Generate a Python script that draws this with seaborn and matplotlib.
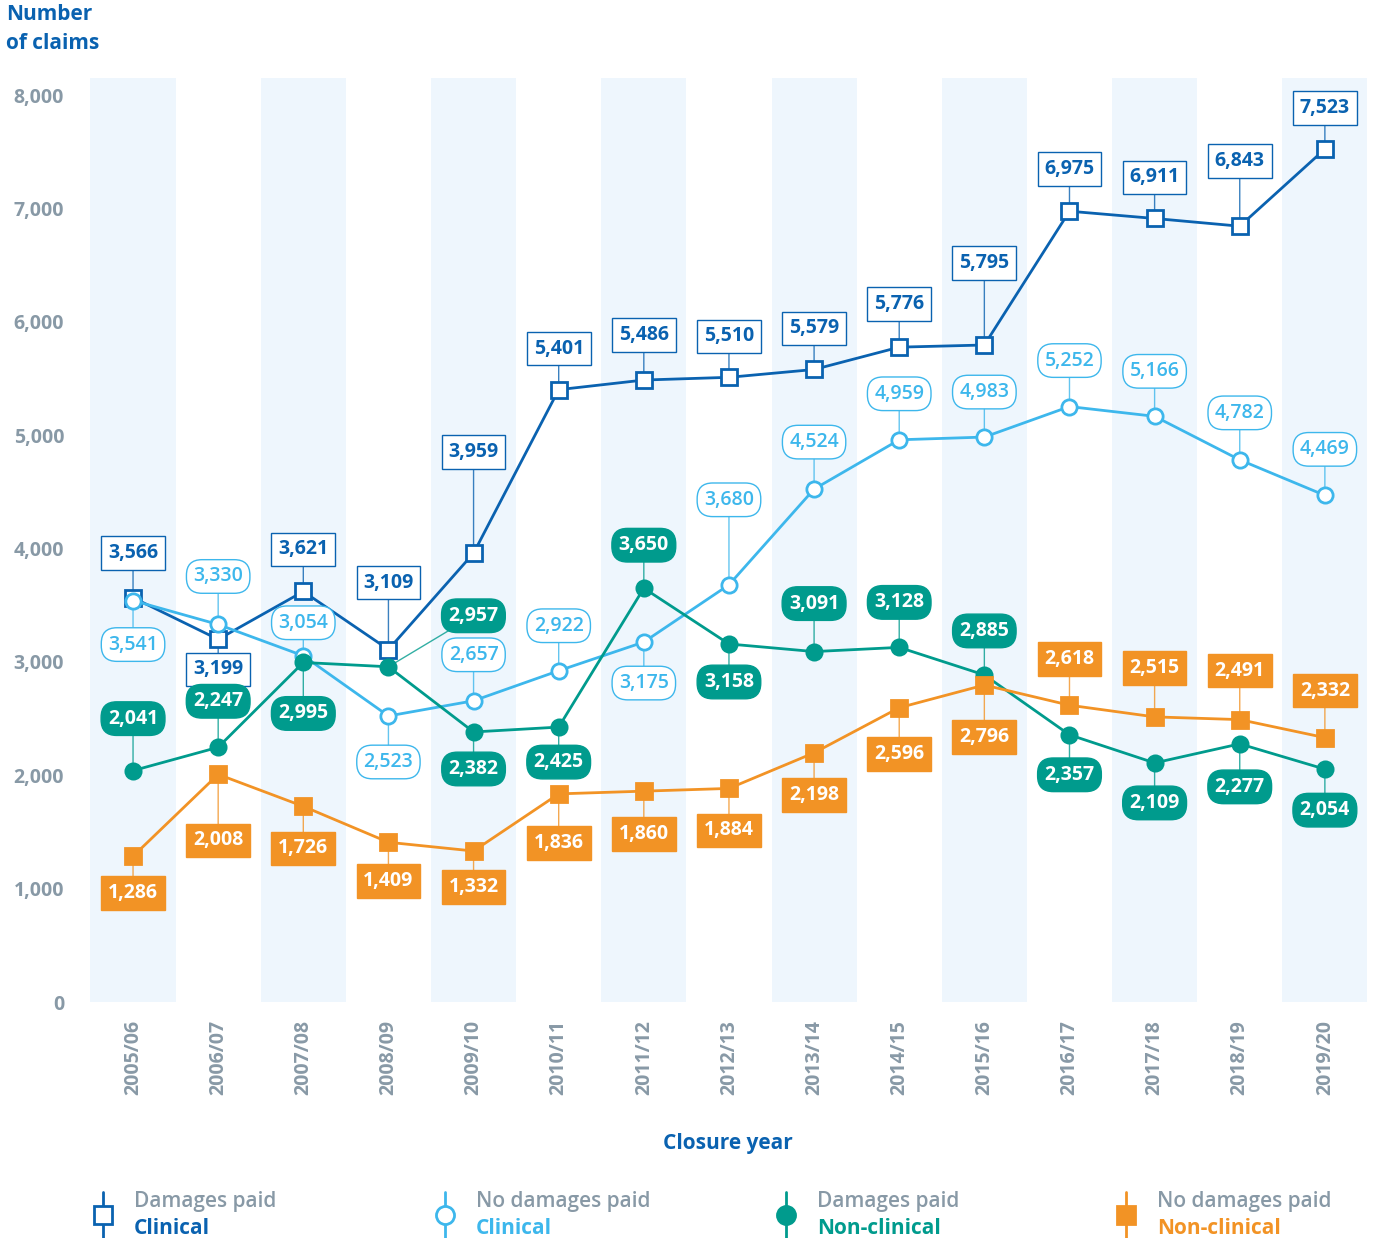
import numpy as np
import pandas as pd
import seaborn as sns
import matplotlib.pyplot as plt
from matplotlib.ticker import FuncFormatter

years = ["2005/06", "2006/07", "2007/08", "2008/09", "2009/10", "2010/11", "2011/12",
         "2012/13", "2013/14", "2014/15", "2015/16", "2016/17", "2017/18", "2018/19", "2019/20"]
damages_clinical = [3566, 3199, 3621, 3109, 3959, 5401, 5486, 5510, 5579, 5776, 5795, 6975, 6911, 6843, 7523]
no_damages_clinical = [3541, 3330, 3054, 2523, 2657, 2922, 3175, 3680, 4524, 4959, 4983, 5252, 5166, 4782, 4469]
damages_nonclinical = [2041, 2247, 2995, 2957, 2382, 2425, 3650, 3158, 3091, 3128, 2885, 2357, 2109, 2277, 2054]
no_damages_nonclinical = [1286, 2008, 1726, 1409, 1332, 1836, 1860, 1884, 2198, 2596, 2796, 2618, 2515, 2491, 2332]

# label offsets in pixels (dx, dy), dy positive = above the point
off_dc = [(0, 45), (0, -30), (0, 42), (0, 67), (0, 101), (0, 41), (0, 45), (0, 41),
          (0, 41), (0, 43), (0, 82), (0, 42), (0, 41), (0, 65), (0, 41)]
off_nc = [(0, -44), (0, 48), (0, 33), (0, -46), (0, 46), (0, 45), (0, -41), (0, 85),
          (0, 47), (0, 46), (0, 45), (0, 46), (0, 45), (0, 47), (0, 46)]
off_dn = [(0, 52), (0, 46), (0, -51), (85, 51), (0, -37), (0, -35), (0, 43), (0, -38),
          (0, 48), (0, 45), (0, 44), (0, -40), (0, -40), (0, -43), (0, -41)]
off_nn = [(0, -37), (0, -66), (0, -42), (0, -39), (0, -36), (0, -49), (0, -43), (0, -42),
          (0, -42), (0, -46), (0, -52), (0, 46), (0, 49), (0, 49), (0, 47)]

DARK = "#0a62b0"
LIGHT = "#3db7ec"
TEAL = "#009b8d"
ORANGE = "#f29325"
GREY = "#8899a6"
BAND = "#eef6fd"

sns.set_theme(style="white")
plt.rcParams["font.family"] = ["Open Sans", "DejaVu Sans"]

df = pd.DataFrame({
    "year": years,
    "dc": damages_clinical,
    "nc": no_damages_clinical,
    "dn": damages_nonclinical,
    "nn": no_damages_nonclinical,
})

fig = plt.figure(figsize=(13.75, 12.38), dpi=100)
ax = fig.add_axes([0.0658, 0.1906, 0.9287, 0.7464])

for i in range(0, len(years), 2):
    ax.axvspan(i - 0.5, i + 0.5, color=BAND, lw=0, zorder=0)

series = [
    ("dc", DARK, "s", "white", off_dc, "square"),
    ("nc", LIGHT, "o", "white", off_nc, "round"),
    ("dn", TEAL, "o", TEAL, off_dn, "roundfill"),
    ("nn", ORANGE, "s", ORANGE, off_nn, "squarefill"),
]

for col, color, marker, mfc, offs, style in series:
    sns.lineplot(data=df, x="year", y=col, ax=ax, color=color, lw=2.0,
                 marker=marker, markersize=11, markerfacecolor=mfc,
                 markeredgecolor=color, markeredgewidth=2, zorder=4, sort=False)
    for i, v in enumerate(df[col]):
        dx, dy = offs[i]
        dxp, dyp = dx * 0.72, dy * 0.72
        ax.annotate("", xy=(i, v), xytext=(dxp, dyp), textcoords="offset points",
                    arrowprops=dict(arrowstyle="-", color=color, lw=1.0, alpha=0.8,
                                    shrinkA=0, shrinkB=0), zorder=1)
        if style == "square":
            bbox = dict(boxstyle="square,pad=0.35", fc="white", ec=color, lw=1.0)
            tc = color
        elif style == "round":
            bbox = dict(boxstyle="round,pad=0.35,rounding_size=0.8", fc="white", ec=color, lw=1.0)
            tc = color
        elif style == "roundfill":
            bbox = dict(boxstyle="round,pad=0.35,rounding_size=0.8", fc=color, ec=color, lw=1.0)
            tc = "white"
        else:
            bbox = dict(boxstyle="square,pad=0.35", fc=color, ec=color, lw=1.0)
            tc = "white"
        weight = "semibold" if style == "round" else "bold"
        ax.annotate(f"{v:,}", xy=(i, v), xytext=(dxp, dyp), textcoords="offset points",
                    ha="center", va="center", fontsize=14, fontweight=weight,
                    color=tc, bbox=bbox, zorder=6)

ax.set_xlim(-0.5, len(years) - 0.5)
ax.set_ylim(0, 8150)
ax.set_yticks(range(0, 8001, 1000))
ax.yaxis.set_major_formatter(FuncFormatter(lambda x, p: f"{int(x):,}"))
ax.set_xticks(range(len(years)))
ax.set_xticklabels(years, rotation=90)
ax.tick_params(axis="y", length=0, pad=19, labelsize=14, labelcolor=GREY)
ax.tick_params(axis="x", length=0, pad=13, labelsize=14, labelcolor=GREY)
for lab in ax.get_xticklabels() + ax.get_yticklabels():
    lab.set_fontweight("bold")
for s in ax.spines.values():
    s.set_visible(False)
ax.set_xlabel("")
ax.set_ylabel("")

fig.text(6 / 1375, 1 - 4 / 1238, "Number\nof claims", ha="left", va="top",
         fontsize=15, fontweight="bold", color=DARK, linespacing=1.5)
fig.text(728 / 1375, 1 - 1144 / 1238, "Closure year", ha="center", va="center",
         fontsize=15, fontweight="bold", color=DARK)

# legend drawn in pixel coordinates
lax = fig.add_axes([0, 0, 1, 60 / 1238])
lax.set_xlim(0, 1375)
lax.set_ylim(1238, 1178)
lax.axis("off")
legend_items = [
    (103, "Damages paid", "Clinical", DARK, "s", "white"),
    (445, "No damages paid", "Clinical", LIGHT, "o", "white"),
    (786, "Damages paid", "Non-clinical", TEAL, "o", TEAL),
    (1126, "No damages paid", "Non-clinical", ORANGE, "s", ORANGE),
]
for x, top, bottom, color, marker, mfc in legend_items:
    lax.plot([x, x], [1192, 1238], color=color, lw=2, zorder=1)
    lax.plot([x], [1215], marker=marker, markersize=13, markerfacecolor=mfc,
             markeredgecolor=color, markeredgewidth=2, zorder=2)
    lax.text(x + 31, 1202, top, ha="left", va="center", fontsize=15,
             fontweight="semibold", color=GREY)
    lax.text(x + 31, 1228, bottom, ha="left", va="center", fontsize=15,
             fontweight="bold", color=color)

fig.savefig("out.png", dpi=100)
